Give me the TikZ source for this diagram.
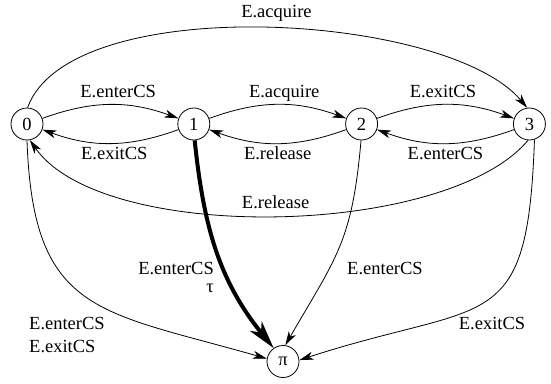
\documentclass[tikz,border=0pt]{standalone}
\usepackage{fontspec}
\setmainfont{Liberation Serif}
\usetikzlibrary{positioning,arrows.meta}
\tikzset{state node/.style={circle,draw,line width=0.8pt,minimum size=32pt,inner sep=0pt,font=\fontsize{18.5}{22}\selectfont},
  trans/.style={line width=0.8pt,-{Stealth[length=14pt,width=8pt,inset=4pt]}},
  tau trans/.style={line width=4pt,-{Stealth[length=28pt,width=15pt,inset=8pt]}},
  lbl/.style={font=\fontsize{18.5}{22}\selectfont,inner sep=3pt},
  edge lbl/.style={lbl,text height=13pt,text depth=4pt},
}

\begin{document}
\begin{tikzpicture}[x=1pt,y=1pt]
\useasboundingbox (-27,-259) rectangle (524,124);

\node[state node] (0) at (0,0) {0};
\node[state node] (1) [right = 134pt of 0] {1};
\node[state node] (2) [right = 135pt of 1] {2};
\node[state node] (3) [right = 135pt of 2] {3};
\node[state node] (pi) at (256,-237.5) {π};

\path[trans]
(0) edge[bend left=20] node[edge lbl,above,pos=.56] (l01) {E.enterCS} (1)
(1) edge[bend left=20] node[edge lbl,below,pos=.47] (l10) {E.exitCS} (0)
(1) edge[bend left=20] node[edge lbl,above,pos=.55] (l12) {E.acquire} (2)
(2) edge[bend left=20] node[edge lbl,below,pos=.5] (l21) {E.release} (1)
(2) edge[bend left=20] node[edge lbl,above,pos=.48] (l23) {E.exitCS} (3)
(3) edge[bend left=20] node[edge lbl,below,pos=.5] (l32) {E.enterCS} (2)
(0.88) edge[out=70,in=130,looseness=0.64] node[edge lbl,above=3pt,pos=.52] (l03) {E.acquire} (3.98)
(3.-95) edge[out=-130,in=-55,looseness=0.655] node[edge lbl,above,pos=.5] (l30) {E.release} (0.-80)
(0.-90) edge[out=-88,in=164,looseness=1.38] (pi.170)
(1.-87) edge[tau trans,out=-84,in=129,looseness=1] (pi.125)
(2.-92) edge[out=-95,in=60,looseness=1.2] (pi.82)
(3.-72) edge[out=-92,in=18,looseness=1.58] (pi.5)
;

% labels of the edges into pi
\node[lbl,align=left,anchor=west] (l0p) at (-1,-211.5) {E.enterCS\\[1pt]E.exitCS};
\node[lbl,align=right,anchor=east] (l1p) at (190,-153) {E.enterCS\\[-4pt]τ};
\node[lbl] (l2p) at (358,-144.5) {E.enterCS};
\node[lbl] (l3p) at (465,-200) {E.exitCS};
\end{tikzpicture}
\end{document}
